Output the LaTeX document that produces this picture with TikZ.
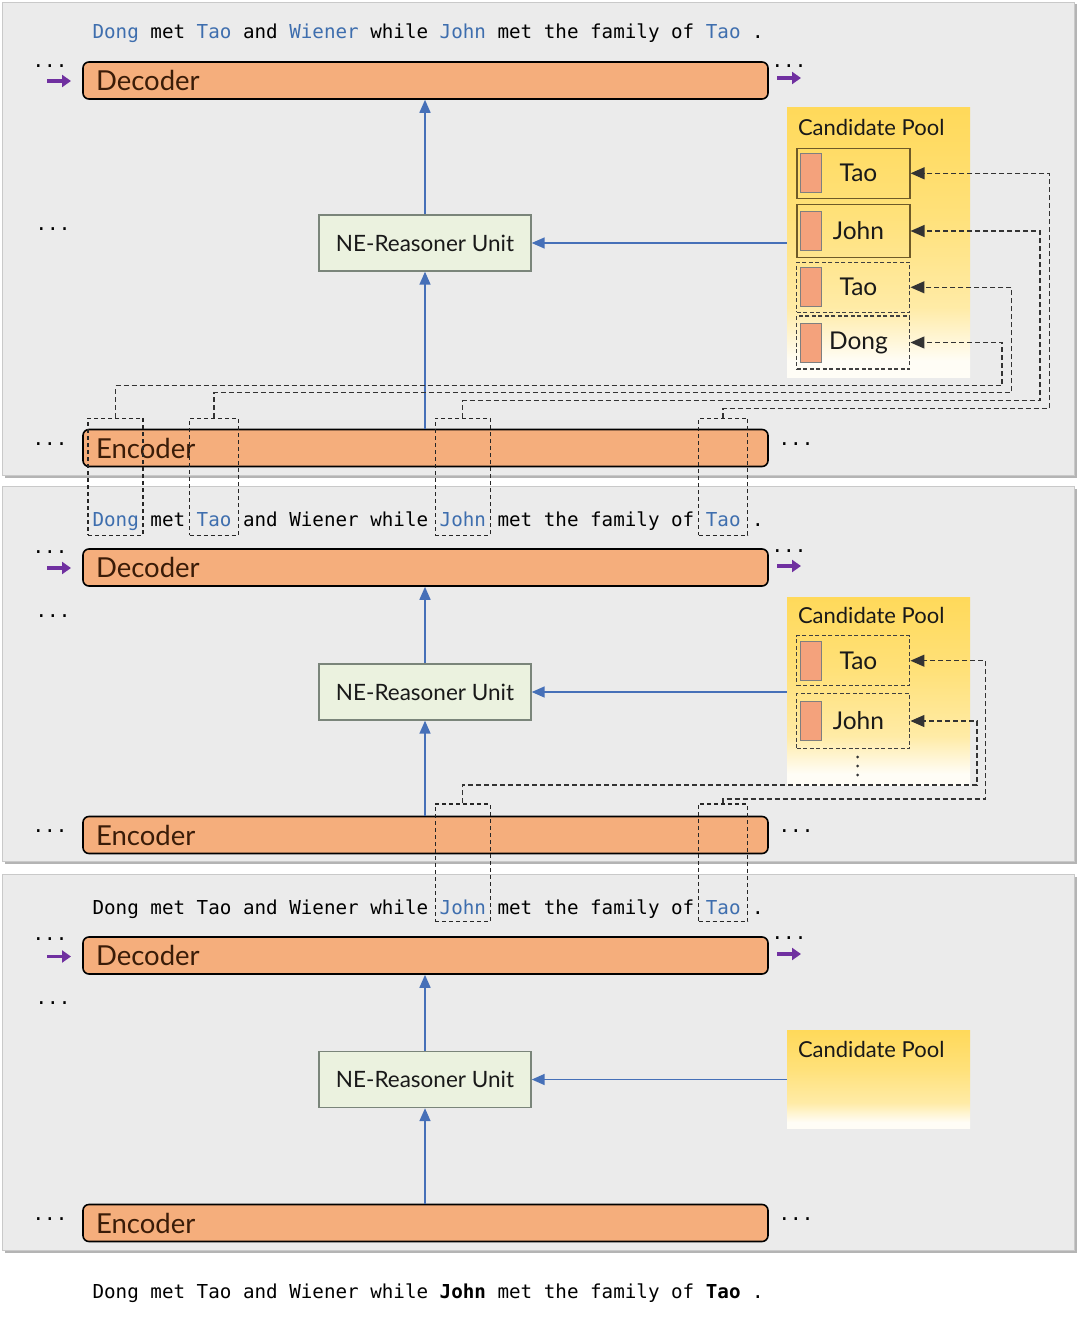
\documentclass[tikz,border=0pt]{standalone}
\usepackage{fontspec}
\setmainfont{Lato}
\newfontfamily\myMono{DejaVu Sans Mono}
\usetikzlibrary{arrows.meta}

\definecolor{panelbg}{HTML}{EBEBEB}
\definecolor{panelbd}{HTML}{C9C9C9}
\definecolor{panelsh}{HTML}{B4B4B4}
\definecolor{boxorange}{HTML}{F5AE7C}
\definecolor{boxtext}{HTML}{3A1C08}
\definecolor{negreen}{HTML}{EBF2DF}
\definecolor{negray}{HTML}{7A857A}
\definecolor{arrowblue}{HTML}{4670B8}
\definecolor{arrowpurple}{HTML}{7030A0}
\definecolor{wordblue}{HTML}{3E6EAE}
\definecolor{poolYa}{HTML}{FFD95A}
\definecolor{poolYb}{HTML}{FFE17A}
\definecolor{poolYc}{HTML}{FFEBA6}
\definecolor{poolW}{HTML}{FFFDF6}
\definecolor{itemborder}{HTML}{6E5A28}
\definecolor{chipfill}{HTML}{F4A27C}
\definecolor{chipborder}{HTML}{7F7F7F}

\pgfdeclareverticalshading{poolshade}{100bp}{color(0bp)=(poolW); color(25bp)=(poolW); color(28bp)=(poolW); color(38bp)=(poolYc); color(55bp)=(poolYb); color(75bp)=(poolYa); color(100bp)=(poolYa)}

\newcommand\mySent{\myMono\fontsize{19.22}{22}\selectfont}
\newcommand\myCoder{\fontsize{27.5}{30}\selectfont}
\newcommand\myNE{\fontsize{22.5}{26}\selectfont}
\newcommand\myPool{\fontsize{22}{26}\selectfont}
\newcommand\myItem{\fontsize{24.5}{28}\selectfont}
\newcommand\bw[1]{\textcolor{wordblue}{#1}}

\begin{document}
\begin{tikzpicture}[x=1pt,y=-1pt,
  coder/.style={draw=black, line width=1.6pt, fill=boxorange, rounded corners=6pt,
    minimum height=37pt, inner xsep=13pt, inner ysep=0pt, text width=659pt, align=left,
    font=\myCoder, text=boxtext},
  nebox/.style={draw=negray, line width=1.4pt, fill=negreen, minimum width=212pt,
    minimum height=56pt, font=\myNE, text=black!90},
  pool/.style={shading=poolshade, minimum width=183pt, inner sep=0pt},
  pooltitle/.style={anchor=base west, font=\myPool, inner sep=0pt, text=black!90},
  item/.style={draw=itemborder, line width=1.3pt, minimum width=113pt, minimum height=50pt, inner sep=0pt},
  itemdash/.style={draw=black!75, line width=1.1pt, dash pattern=on 4pt off 2.5pt, minimum width=113pt, minimum height=50pt, inner sep=0pt},
  itemlab/.style={font=\myItem, text=black!90, xshift=5pt},
  chip/.style={draw=chipborder, line width=1pt, fill=chipfill, minimum width=21pt, minimum height=39pt, inner sep=0pt},
  wordbox/.style={draw=black!85, line width=1.1pt, dash pattern=on 4pt off 3pt, inner sep=0pt},
  link/.style={draw=black!80, line width=1.3pt, dash pattern=on 5pt off 3pt, -{Triangle[length=14pt,width=12pt]}},
  bluearrow/.style={draw=arrowblue, line width=1.6pt, -{Triangle[length=13pt,width=11pt]}},
  purplearrow/.style={draw=arrowpurple, line width=3.5pt, -{Triangle[length=9pt,width=12pt]}},
  dots/.style={font=\mySent, inner sep=0pt},
  sent/.style={font=\mySent, inner sep=0pt, anchor=base west}
]
\useasboundingbox (0,0) rectangle (1080,1329);
\fill[white] (0,0) rectangle (1080,1329);

% ---------- panels ----------
\fill[panelsh] (4.5,4.5) rectangle (1076.5,477.5);
\filldraw[fill=panelbg, draw=panelbd, line width=0.8pt] (2,2) rectangle (1074,475);
\fill[panelsh] (4.5,488.5) rectangle (1076.5,863.5);
\filldraw[fill=panelbg, draw=panelbd, line width=0.8pt] (2,486) rectangle (1074,861);
\fill[panelsh] (4.5,876.5) rectangle (1076.5,1252.5);
\filldraw[fill=panelbg, draw=panelbd, line width=0.8pt] (2,874) rectangle (1074,1250);

% ================= PANEL 1 =================
\node[sent] (s1) at (92.4,39) {\bw{Dong} met \bw{Tao} and \bw{Wiener} while \bw{John} met the family of \bw{Tao} .};
\node[coder] (d1) at (425.5,80.5) {Decoder};
\node[coder] (e1) at (425.5,448) {Encoder};
\node[nebox] (n1) at (425,243) {NE-Reasoner Unit};
\node[pool, minimum height=269pt] (p1) at (878.5,242.5) {};
\node[pooltitle] (t1) at ([xshift=11pt,yshift=-28pt]p1.north west) {Candidate Pool};
\node[item] (i1a) at (853.4,173.3) {};
\node[item, minimum height=53pt] (i1b) at (853.4,231) {};
\node[itemdash] (i1c) at (853.4,287.3) {};
\node[itemdash, minimum height=53pt] (i1d) at (853.4,342.5) {};
\node[itemlab] (l1a) at (i1a.center) {Tao};
\node[itemlab] (l1b) at (i1b.center) {John};
\node[itemlab] (l1c) at (i1c.center) {Tao};
\node[itemlab] (l1d) at (i1d.center) {Dong};
\node[chip] (c1a) at ([xshift=14.8pt]i1a.west) {};
\node[chip] (c1b) at ([xshift=14.8pt]i1b.west) {};
\node[chip] (c1c) at ([xshift=14.8pt]i1c.west) {};
\node[chip] (c1d) at ([xshift=14.8pt]i1d.west) {};

\draw[bluearrow] (e1.north -| n1.south) -- (n1.south);
\draw[bluearrow] (n1.north) -- (n1.north |- d1.south);
\draw[bluearrow] (n1.east -| p1.west) -- (n1.east);

\coordinate (pl1s) at (47,81); \coordinate (pl1e) at (71,81);
\coordinate (pr1s) at (777,78); \coordinate (pr1e) at (801,78);
\draw[purplearrow] (pl1s) -- (pl1e);
\draw[purplearrow] (pr1s) -- (pr1e);
\node[dots] (dA1) at (50,66) {...};
\node[dots] (dB1) at (789,66) {...};
\node[dots] (dC1) at (53,229) {...};
\node[dots] (dD1) at (50,444) {...};
\node[dots] (dE1) at (796,444) {...};

% ================= PANEL 2 =================
\node[sent] (s2) at (92.4,526) {\bw{Dong} met \bw{Tao} and Wiener while \bw{John} met the family of \bw{Tao} .};
\node[coder] (d2) at (425.5,567.5) {Decoder};
\node[coder] (e2) at (425.5,835) {Encoder};
\node[nebox] (n2) at (425,692) {NE-Reasoner Unit};
\node[pool, minimum height=188pt] (p2) at (878.5,691) {};
\node[pooltitle] (t2) at ([xshift=11pt,yshift=-27pt]p2.north west) {Candidate Pool};
\node[itemdash] (i2a) at (853.4,660.7) {};
\node[itemdash, minimum height=55pt] (i2b) at (853.4,721) {};
\node[itemlab] (l2a) at (i2a.center) {Tao};
\node[itemlab] (l2b) at (i2b.center) {John};
\node[chip] (c2a) at ([xshift=14.8pt]i2a.west) {};
\node[chip] (c2b) at ([xshift=14.8pt]i2b.west) {};
\fill[black!80] (857.7,757) circle (1.5pt) (857.7,766) circle (1.5pt) (857.7,775) circle (1.5pt);

\draw[bluearrow] (e2.north -| n2.south) -- (n2.south);
\draw[bluearrow] (n2.north) -- (n2.north |- d2.south);
\draw[bluearrow] (n2.east -| p2.west) -- (n2.east);

\coordinate (pl2s) at (47,568); \coordinate (pl2e) at (71,568);
\coordinate (pr2s) at (777,566); \coordinate (pr2e) at (801,566);
\draw[purplearrow] (pl2s) -- (pl2e);
\draw[purplearrow] (pr2s) -- (pr2e);
\node[dots] (dA2) at (50,552) {...};
\node[dots] (dB2) at (789,551) {...};
\node[dots] (dC2) at (53,616) {...};
\node[dots] (dD2) at (50,831) {...};
\node[dots] (dE2) at (796,831) {...};

% ================= PANEL 3 =================
\node[sent] (s3) at (92.4,914) {Dong met Tao and Wiener while \bw{John} met the family of \bw{Tao} .};
\node[coder] (d3) at (425.5,955.5) {Decoder};
\node[coder] (e3) at (425.5,1223) {Encoder};
\node[nebox] (n3) at (425,1079.5) {NE-Reasoner Unit};
\node[pool, minimum height=98pt] (p3) at (878.5,1079) {};
\node[pooltitle] (t3) at ([xshift=11pt,yshift=-28pt]p3.north west) {Candidate Pool};

\draw[bluearrow] (e3.north -| n3.south) -- (n3.south);
\draw[bluearrow] (n3.north) -- (n3.north |- d3.south);
\draw[bluearrow] (n3.east -| p3.west) -- (n3.east);

\coordinate (pl3s) at (47,956.5); \coordinate (pl3e) at (71,956.5);
\coordinate (pr3s) at (777,954); \coordinate (pr3e) at (801,954);
\draw[purplearrow] (pl3s) -- (pl3e);
\draw[purplearrow] (pr3s) -- (pr3e);
\node[dots] (dA3) at (50,939) {...};
\node[dots] (dB3) at (789,938) {...};
\node[dots] (dC3) at (53,1003) {...};
\node[dots] (dD3) at (50,1219) {...};
\node[dots] (dE3) at (796,1219) {...};

% bottom sentence
\node[sent] (s4) at (92.4,1298) {Dong met Tao and Wiener while \textbf{John} met the family of \textbf{Tao} .};

% ---------- word boxes and links ----------
\node[wordbox, minimum width=55pt, minimum height=117pt] (w1a) at (115.5,476.7) {};
\node[wordbox, minimum width=48.5pt, minimum height=117pt] (w1b) at (213.9,476.7) {};
\node[wordbox, minimum width=55pt, minimum height=117pt] (w1c) at (462.6,476.7) {};
\node[wordbox, minimum width=49pt, minimum height=117pt] (w1d) at (723,476.7) {};

\draw[link] (w1a.north) |- (1002,385.7) |- (i1d.east);
\draw[link] (w1b.north) |- (1011.5,392.7) |- (i1c.east);
\draw[link] (w1c.north) |- (1040,400.7) |- (i1b.east);
\draw[link] (w1d.north) |- (1049.5,408.3) |- (i1a.east);

\node[wordbox, minimum width=55pt, minimum height=117.7pt] (w2a) at (462.6,862.8) {};
\node[wordbox, minimum width=49pt, minimum height=117.7pt] (w2b) at (723,862.8) {};

\draw[link] (w2a.north) |- (977,785) |- (i2b.east);
\draw[link] (w2b.north) |- (985.7,799) |- (i2a.east);
\end{tikzpicture}
\end{document}
